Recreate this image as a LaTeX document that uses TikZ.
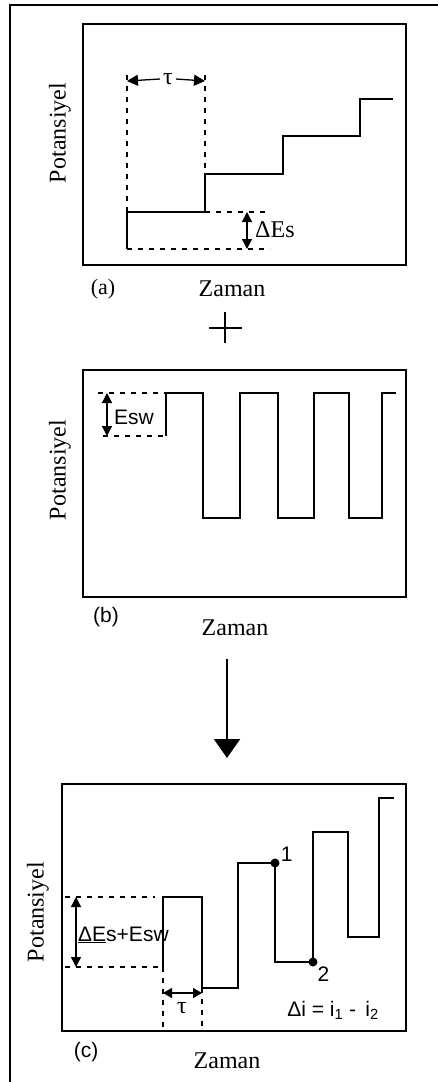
\documentclass[tikz,border=0pt]{standalone}
\usepackage{fontspec}
\setmainfont{Liberation Serif}
\newfontfamily\arial{Liberation Sans}
\usetikzlibrary{arrows.meta}

\begin{document}
\begin{tikzpicture}[
    x=1pt, y=-1pt,
    frame/.style={draw, line width=1.5pt},
    signal/.style={line width=1.5pt},
    guide/.style={line width=1.1pt, dash pattern=on 5pt off 6pt},
    dimarrow/.style={{Triangle[length=10pt,width=10pt]}-{Triangle[length=10pt,width=10pt]}, line width=1.3pt},
    axis/.style={font=\fontsize{24}{26}\selectfont},
    tag/.style={font=\fontsize{22}{24}\selectfont},
    sanstag/.style={font=\arial\fontsize{21}{23}\selectfont},
    dot/.style={circle, fill, inner sep=0pt, minimum size=9pt}
]
\useasboundingbox (0,0) rectangle (438,1082);

% Outer frame
\draw[line width=1.8pt] (10,1090) -- (10,5) -- (445,5);

%% (a) staircase
\draw[frame] (83,24) rectangle (406,265);
\draw[signal] (127,249) -- (127,212) -- (205,212) -- (205,174) -- (283,174)
    -- (283,136) -- (360,136) -- (360,99) -- (393,99);
\draw[guide] (127,75) -- (127,212);
\draw[guide] (205,75) -- (205,174);
\draw[guide] (205,212) -- (270,212);
\draw[guide] (127,249) -- (270,249);
\coordinate (tauL) at (127,81);
\coordinate (tauR) at (205,81);
\node (tauA) [axis, inner sep=3pt] at (168,79) {τ};
\draw[-{Triangle[length=11pt,width=11pt]}, line width=1.3pt] (tauA.west) -- (tauL);
\draw[-{Triangle[length=11pt,width=11pt]}, line width=1.3pt] (tauA.east) -- (tauR);
\coordinate (dEsTop) at (247,212);
\coordinate (dEsBot) at (247,249);
\draw[dimarrow] (dEsTop) -- (dEsBot);
\node (dEs) [axis, anchor=west, inner sep=0pt] at (255,230) {ΔEs};
\node (potA) [axis, rotate=90] at (60,133) {Potansiyel};
\node (labA) [tag] at (103,289) {(a)};
\node (zamanA) [axis] at (232,289) {Zaman};

% plus sign
\draw[line width=1.8pt] (209,328) -- (242,328);
\draw[line width=1.8pt] (225,312) -- (225,343);

%% (b) square wave
\draw[frame] (83,370) rectangle (406,597);
\draw[signal] (166,436) -- (166,393) -- (203,393) -- (203,518) -- (240,518)
    -- (240,393) -- (278,393) -- (278,518) -- (314,518) -- (314,393)
    -- (349,393) -- (349,518) -- (382,518) -- (382,393) -- (396,393);
\draw[guide] (98,393) -- (166,393);
\draw[guide] (103,436) -- (166,436);
\coordinate (eswTop) at (107,393);
\coordinate (eswBot) at (107,436);
\draw[dimarrow] (eswTop) -- (eswBot);
\node (esw) [sanstag, anchor=west, inner sep=0pt] at (114,417) {Esw};
\node (potB) [axis, rotate=90] at (60,470) {Potansiyel};
\node (labB) [sanstag] at (106,617) {(b)};
\node (zamanB) [axis] at (235,628) {Zaman};

% result arrow
\coordinate (sumTop) at (227,659);
\coordinate (sumTip) at (227,758);
\draw[-{Triangle[length=19pt,width=26pt]}, line width=2.2pt] (sumTop) -- (sumTip);

%% (c) combined wave
\draw[frame] (62,784) rectangle (406,1031);
\draw[signal] (163,967) -- (163,897) -- (202,897) -- (202,988) -- (238,988)
    -- (238,863) -- (275,863) -- (275,962) -- (313,962) -- (313,832)
    -- (348,832) -- (348,937) -- (379,937) -- (379,798) -- (394,798);
\draw[guide] (65,897) -- (155,897);
\draw[guide] (65,967) -- (163,967);
\draw[guide] (163,967) -- (163,1027);
\draw[guide] (202,988) -- (202,1027);
\node (p1) [dot] at (275,863) {};
\node (p2) [dot] at (313,962) {};
\node (n1) [sanstag, anchor=south west, inner sep=1pt] at (p1.east) {1};
\node (n2) [sanstag, anchor=north west, inner sep=1pt] at (p2.south east) {2};
\coordinate (stepL) at (163,993);
\coordinate (stepR) at (202,993);
\draw[{Triangle[length=9pt,width=10pt]}-{Triangle[length=9pt,width=10pt]}, line width=1.3pt] (stepL) -- (stepR);
\node (tauC) [axis, inner sep=0pt] at (182,1008) {τ};
\coordinate (sumHi) at (76,897);
\coordinate (sumLo) at (76,967);
\draw[dimarrow] (sumHi) -- (sumLo);
\node (dEsw) [sanstag, anchor=west, inner sep=0pt] at (78,935)
    {\underline{ΔE}s+Esw};
\node (di) [sanstag, inner sep=0pt] at (333,1010) {Δi = i\textsubscript{1} - \,i\textsubscript{2}};
\node (potC) [axis, rotate=90] at (38,912) {Potansiyel};
\node (labC) [sanstag] at (86,1052) {(c)};
\node (zamanC) [axis] at (227,1061) {Zaman};

\end{tikzpicture}
\end{document}
